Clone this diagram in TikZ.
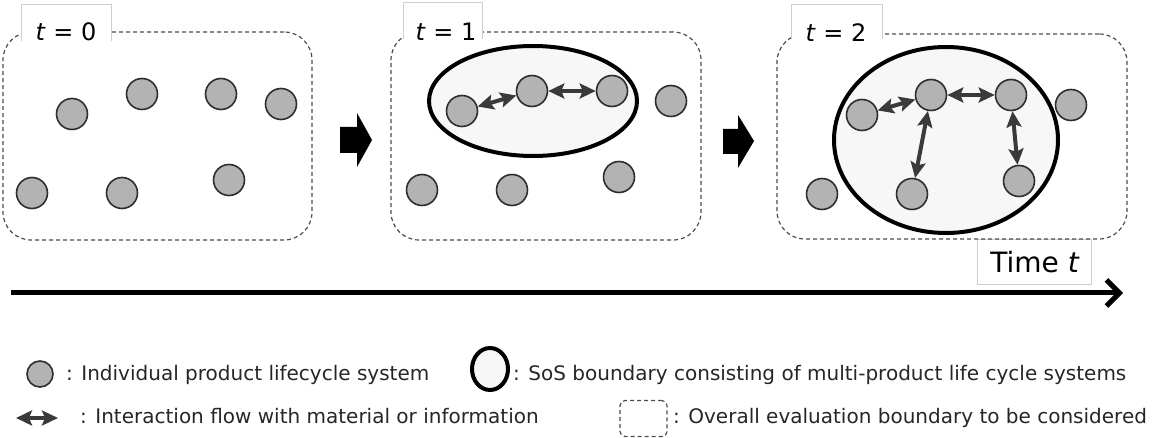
\documentclass[tikz,border=0pt]{standalone}
\usepackage{fontspec}
\setmainfont{DejaVu Sans}
\usetikzlibrary{arrows.meta,shapes.geometric}
\definecolor{dotgray}{HTML}{B3B3B3}
\definecolor{sosfill}{HTML}{F7F7F7}
\definecolor{iagray}{HTML}{3A3A3A}
\definecolor{boxgray}{HTML}{CFCFCF}
\begin{document}
\begin{tikzpicture}[x=1pt,y=-1pt,
  pls/.style={circle, draw=black!82, line width=1.6pt, fill=dotgray, minimum size=31pt, inner sep=0pt},
  sos/.style={ellipse, draw=black, line width=4pt, fill=sosfill, inner sep=0pt},
  panel/.style={draw=black!70, dash pattern=on 4pt off 3pt, line width=1.2pt, rounded corners=28pt, inner sep=0pt},
  ia/.style={draw=iagray, line width=4pt, {Stealth[length=16pt,width=15pt,inset=3pt]}-{Stealth[length=16pt,width=15pt,inset=3pt]}},
  labbox/.style={fill=white, inner sep=0pt},
  labline/.style={draw=boxgray, line width=0.8pt},
  tlabel/.style={font=\fontsize{24}{28}\selectfont, inner sep=0pt},
  legtext/.style={font=\fontsize{20}{24}\selectfont, inner sep=0pt, anchor=base west, text=black!85},
  blockarrow/.style={fill=black}
]
\useasboundingbox (0,0) rectangle (1162,438);

% time label box (under panel 3 border)
\node[labbox, draw=boxgray, line width=0.8pt, minimum width=114pt, minimum height=45pt] (timebox) at (1034,261.5) {};
\node[font=\fontsize{28}{32}\selectfont, inner sep=0pt] (timetext) at (1035,262) {Time \textit{t}};

% panels
\node[panel, minimum width=309pt, minimum height=208pt] (P1) at (157.5,136) {};
\node[panel, minimum width=310pt, minimum height=208pt] (P2) at (546,136) {};
\node[panel, minimum width=350pt, minimum height=205pt] (P3) at (952,136.5) {};

% panel labels
\node[labbox, minimum width=89pt, minimum height=36pt] (B0) at (66.5,23) {};
\draw[labline] (B0.south west) |- (B0.north east) -- (B0.south east);
\node[tlabel] (T0) at (66,32) {\textit{t} = 0};
\node[labbox, minimum width=78pt, minimum height=36pt] (B1) at (443,21) {};
\draw[labline] (B1.south west) |- (B1.north east) -- (B1.south east);
\node[tlabel] (T1) at (446,32) {\textit{t} = 1};
\node[labbox, minimum width=90pt, minimum height=34pt] (B2) at (837,22) {};
\draw[labline] (B2.south west) |- (B2.north east) -- (B2.south east);
\node[tlabel] (T2) at (836,33) {\textit{t} = 2};

% panel 1 circles
\node[pls] (a1) at (72,114) {};
\node[pls] (a2) at (142,94) {};
\node[pls] (a3) at (221,94) {};
\node[pls] (a4) at (281,104) {};
\node[pls] (a5) at (32,193) {};
\node[pls] (a6) at (122,193) {};
\node[pls] (a7) at (229,180) {};

% block arrows
\fill[blockarrow] (340,127) -- (357,127) -- (357,113) -- (372,140) -- (357,167) -- (357,153) -- (340,153) -- cycle;
\fill[blockarrow] (723,129) -- (738,129) -- (738,115) -- (754,141) -- (738,168) -- (738,154) -- (723,154) -- cycle;

% panel 2
\node[sos, minimum width=208pt, minimum height=110pt] (S2) at (533,101) {};
\node[pls] (b1) at (462,111) {};
\node[pls] (b2) at (532,91) {};
\node[pls] (b3) at (612,91) {};
\node[pls] (b4) at (671,101) {};
\node[pls] (b5) at (422,190) {};
\node[pls] (b6) at (512,190) {};
\node[pls] (b7) at (619,177) {};
\draw[ia] (b1) -- (b2);
\draw[ia] (b2) -- (b3);

% panel 3
\node[sos, minimum width=224pt, minimum height=186pt] (S3) at (946,140) {};
\node[pls] (c1) at (862,115) {};
\node[pls] (c2) at (931,95) {};
\node[pls] (c3) at (1011,95) {};
\node[pls] (c4) at (1071,105) {};
\node[pls] (c5) at (822,194) {};
\node[pls] (c6) at (912,194) {};
\node[pls] (c7) at (1019,181) {};
\draw[ia] (c1) -- (c2);
\draw[ia] (c2) -- (c3);
\draw[ia] (c2) -- (c6);
\draw[ia] (c3) -- (c7);

% time arrow
\coordinate (ts) at (11,293);
\coordinate (te) at (1123,293);
\draw[line width=5pt, -{Straight Barb[length=13pt,width=26pt]}] (ts) -- (te);

% legend
\node[pls, minimum size=26pt] (lg1) at (40,374) {};
\node[legtext] (lt1) at (66,380) {: Individual product lifecycle system};
\node[sos, minimum width=36pt, minimum height=42pt] (lg2) at (490,369) {};
\node[legtext] (lt2) at (513,380) {: SoS boundary consisting of multi-product life cycle systems};
\coordinate (la) at (16,418);
\coordinate (lb) at (58,418);
\draw[ia] (la) -- (lb);
\node[legtext] (lt3) at (80,423) {: Interaction flow with material or information};
\node[panel, rounded corners=5pt, minimum width=47pt, minimum height=36pt] (lg4) at (643.5,418.5) {};
\node[legtext] (lt4) at (673,423) {: Overall evaluation boundary to be considered};
\end{tikzpicture}
\end{document}
